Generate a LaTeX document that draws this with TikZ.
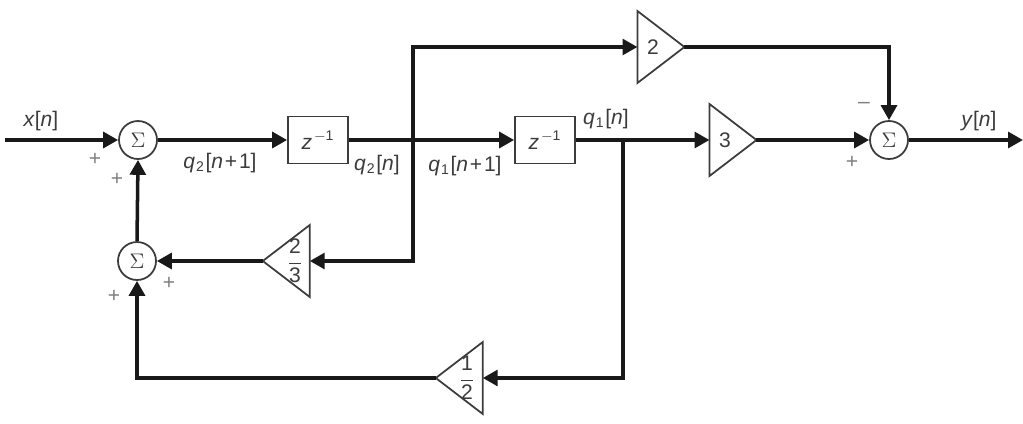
\documentclass[tikz,border=0pt]{standalone}
\usepackage{fontspec}
\setmainfont{Liberation Sans}
\usepackage{xcolor}
\usetikzlibrary{arrows.meta}
\usetikzlibrary{shapes.geometric}
\definecolor{inkgray}{HTML}{3C3C3C}
\newcommand{\seqq}[1]{\textit{q}\kern0.5pt\textsubscript{#1}\kern0.5pt}
\newcommand{\zinv}{\textit{z}\kern1pt\raisebox{1pt}{\textsuperscript{$-$1}}}
\newcommand{\nplus}{[\textit{n}\kern1pt+\kern1pt1]}
\tikzset{
  wire/.style={line width=2pt,color=black!90,-{Triangle[length=8.5pt,width=9pt]}},
  sumnode/.style={circle,draw=inkgray,line width=1pt,minimum size=0.76cm,inner sep=0pt,text=inkgray,font=\large},
  delaybox/.style={rectangle,draw=inkgray,line width=1pt,minimum width=1.2cm,minimum height=0.94cm,inner sep=0pt,text=inkgray,font=\large},
  gainbox/.style={isosceles triangle,isosceles triangle stretches,draw=inkgray,line width=1pt,minimum width=1.44cm,minimum height=0.94cm,inner sep=0pt,outer sep=0pt,text=inkgray,font=\large},
  sig/.style={text=inkgray,font=\large,inner sep=0pt},
  signmark/.style={text=gray,font=\large,inner sep=0pt}
}
\begin{document}
\begin{tikzpicture}[x=0.02cm,y=-0.02cm]
\useasboundingbox (0,0) rectangle (1023,423);
% summing points
\node[sumnode] (sumA) at (138,140) {$\Sigma$};
\node[sumnode] (sumB) at (137,261) {$\Sigma$};
\node[sumnode] (sumC) at (889,140) {$\Sigma$};
% delays
\node[delaybox] (delayA) at (318,140) {\zinv};
\node[delaybox] (delayB) at (545,140) {\zinv};
% gains
\node[gainbox] (gainTwo) at (653,47) {2};
\node[gainbox] (gainThree) at (725,140) {3};
\node[gainbox,shape border rotate=180] (gainTT) at (292,261) {};
\node[gainbox,shape border rotate=180] (gainHalf) at (465,378) {};
\node[sig] (fracTT) at (295,261) {$\displaystyle\frac{\mbox{2}}{\mbox{3}}$};
\node[sig] (fracHalf) at (467,378) {$\displaystyle\frac{\mbox{1}}{\mbox{2}}$};
% free ends and branch points
\coordinate (inp) at (5,140);
\coordinate (outp) at (1023,140);
\coordinate (tapA) at (413,140);
\coordinate (tapB) at (623,140);
% forward path
\draw[wire] (inp) -- (sumA.west);
\draw[wire] (sumA.east) -- (delayA.west);
\draw[wire] (delayA.east) -- (delayB.west);
\draw[wire] (delayB.east) -- (gainThree.lower side);
\draw[wire] (gainThree.apex) -- (sumC.west);
\draw[wire] (sumC.east) -- (outp);
% branches
\draw[wire] (tapA) |- (gainTwo.lower side);
\draw[wire] (tapA) |- (gainTT.lower side);
\draw[wire] (gainTwo.apex) -| (sumC.north);
\draw[wire] (tapB) |- (gainHalf.lower side);
\draw[wire] (gainHalf.apex) -| (sumB.south);
\draw[wire] (gainTT.apex) -- (sumB.east);
\draw[wire] (sumB.north) -- (sumA.south);
% labels
\node[sig] (lblX) at (41,121) {\textit{x}[\textit{n}]};
\node[sig] (lblY) at (979,121) {\textit{y}[\textit{n}]};
\node[sig] (lblQtwoN) at (220,163) {\seqq{2}\nplus};
\node[sig] (lblQtwo) at (377,165) {\seqq{2}[\textit{n}]};
\node[sig] (lblQoneN) at (465,166) {\seqq{1}\nplus};
\node[sig] (lblQone) at (606,119) {\seqq{1}[\textit{n}]};
% signs
\node[signmark] (plusA) at (95,159) {+};
\node[signmark] (plusB) at (117,179) {+};
\node[signmark] (plusC) at (114,296) {+};
\node[signmark] (plusD) at (169,283) {+};
\node[signmark] (plusE) at (852,162) {+};
\node[signmark] (minusA) at (864,105) {--};
\end{tikzpicture}
\end{document}
